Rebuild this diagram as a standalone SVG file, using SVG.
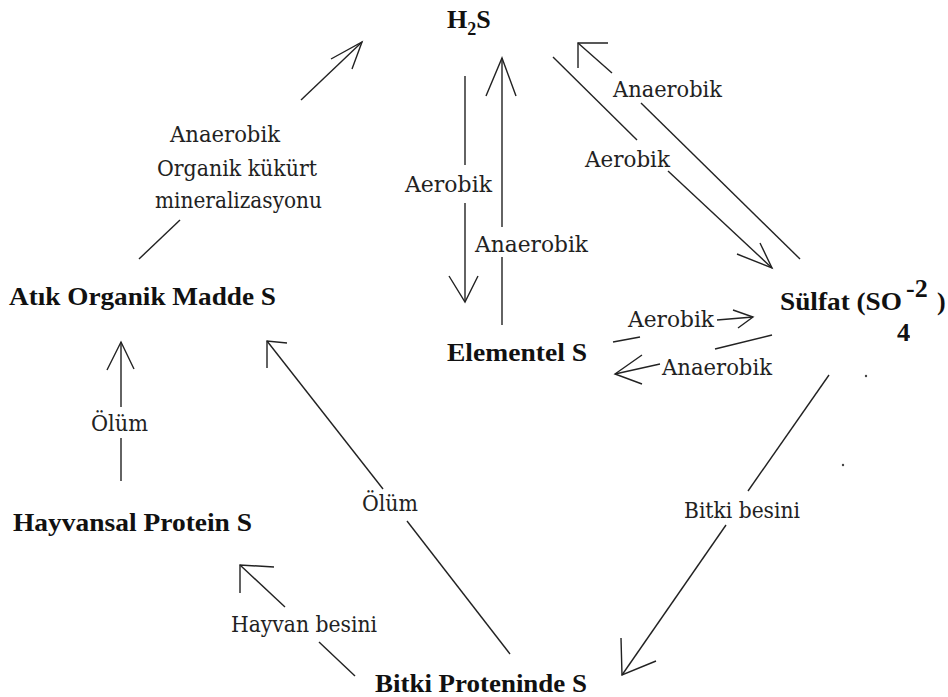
<svg xmlns="http://www.w3.org/2000/svg" width="948" height="697" viewBox="0 0 948 697">
<style>
.n{font-family:"Liberation Serif","Times New Roman",serif;font-weight:bold;font-size:26px;fill:#111}
.l{font-family:"DejaVu Serif","Liberation Serif",serif;font-size:23px;fill:#222}
.c line,.c polyline{stroke:#222;stroke-width:1.4;fill:none}
</style>
<rect width="948" height="697" fill="#fff"/>
<g class="c" id="connectors">
<line x1="139" y1="259" x2="180" y2="220"/><line x1="301" y1="100" x2="362" y2="42"/><polyline points="331,59 362,42 352,69"/>
<line x1="465" y1="76" x2="465" y2="165"/><line x1="465" y1="203" x2="465" y2="302"/><polyline points="449,276 465,302 478,276"/>
<line x1="502" y1="325" x2="502" y2="257"/><line x1="502" y1="227" x2="502" y2="58"/><polyline points="486,96 502,58 516,96"/>
<line x1="553" y1="57" x2="637" y2="140"/><line x1="668" y1="171" x2="772" y2="268"/><polyline points="737,254 772,268 760,243"/>
<line x1="800" y1="259" x2="641" y2="103"/><line x1="612" y1="73" x2="578" y2="43"/><polyline points="608,43 578,43 578,68"/>
<line x1="613" y1="342" x2="640" y2="337"/><line x1="717" y1="320" x2="753" y2="317"/><polyline points="733,310 753,317 738,328"/>
<line x1="772" y1="335" x2="715" y2="349"/><line x1="660" y1="364" x2="615" y2="374"/><polyline points="642,355 615,374 642,384"/>
<line x1="829" y1="375" x2="748" y2="491"/><line x1="726" y1="525" x2="622" y2="675"/><polyline points="621,638 622,675 656,661"/>
<line x1="510" y1="654" x2="407" y2="521"/><line x1="383" y1="489" x2="267" y2="341"/><polyline points="287,343 267,341 267,368"/>
<line x1="355" y1="676" x2="319" y2="642"/><line x1="285" y1="607" x2="240" y2="565"/><polyline points="274,567 240,565 240,593"/>
<line x1="121" y1="481" x2="121" y2="438"/><line x1="121" y1="407" x2="121" y2="342"/><polyline points="107,370 121,342 134,369"/>
</g>
<g id="labels">
<text class="l" x="170" y="142" textLength="110" lengthAdjust="spacingAndGlyphs">Anaerobik</text>
<text class="l" x="157" y="176" textLength="160" lengthAdjust="spacingAndGlyphs">Organik kükürt</text>
<text class="l" x="155" y="208" textLength="167" lengthAdjust="spacingAndGlyphs">mineralizasyonu</text>
<text class="l" x="405" y="192" textLength="87" lengthAdjust="spacingAndGlyphs">Aerobik</text>
<text class="l" x="475" y="252" textLength="113" lengthAdjust="spacingAndGlyphs">Anaerobik</text>
<text class="l" x="613" y="97" textLength="109" lengthAdjust="spacingAndGlyphs">Anaerobik</text>
<text class="l" x="585" y="167" textLength="85" lengthAdjust="spacingAndGlyphs">Aerobik</text>
<text class="l" x="628" y="327" textLength="86" lengthAdjust="spacingAndGlyphs">Aerobik</text>
<text class="l" x="662" y="375" textLength="110" lengthAdjust="spacingAndGlyphs">Anaerobik</text>
<text class="l" x="684" y="518" textLength="116" lengthAdjust="spacingAndGlyphs">Bitki besini</text>
<text class="l" x="362" y="511" textLength="56" lengthAdjust="spacingAndGlyphs">Ölüm</text>
<text class="l" x="91" y="431" textLength="57" lengthAdjust="spacingAndGlyphs">Ölüm</text>
<text class="l" x="231" y="632" textLength="146" lengthAdjust="spacingAndGlyphs">Hayvan besini</text>
</g>
<g id="h2s"><text class="n" x="447" y="28" font-size="27">H<tspan font-size="18" dy="7">2</tspan><tspan dy="-7">S</tspan></text></g>
<g id="atik"><text class="n" x="9" y="305" textLength="267" lengthAdjust="spacingAndGlyphs">Atık Organik Madde S</text></g>
<g id="elementel"><text class="n" x="447" y="361" textLength="140" lengthAdjust="spacingAndGlyphs">Elementel S</text></g>
<g id="sulfat">
<text class="n" x="780" y="310" textLength="122" lengthAdjust="spacingAndGlyphs">Sülfat (SO</text>
<text class="n" x="906" y="297" font-size="20">-2</text>
<text class="n" x="897" y="341" font-size="20">4</text>
<circle cx="909" cy="337" r="1" fill="#333"/>
<text class="n" x="937" y="310">)</text>
</g>
<g id="hayvansal"><text class="n" x="13" y="531" textLength="239" lengthAdjust="spacingAndGlyphs">Hayvansal Protein S</text></g>
<g id="bitki"><text class="n" x="375" y="692" textLength="212" lengthAdjust="spacingAndGlyphs">Bitki Proteninde S</text></g>
<g id="dots"><circle cx="866" cy="376" r="1.2" fill="#444"/><circle cx="843" cy="465" r="1.2" fill="#444"/></g>
</svg>
